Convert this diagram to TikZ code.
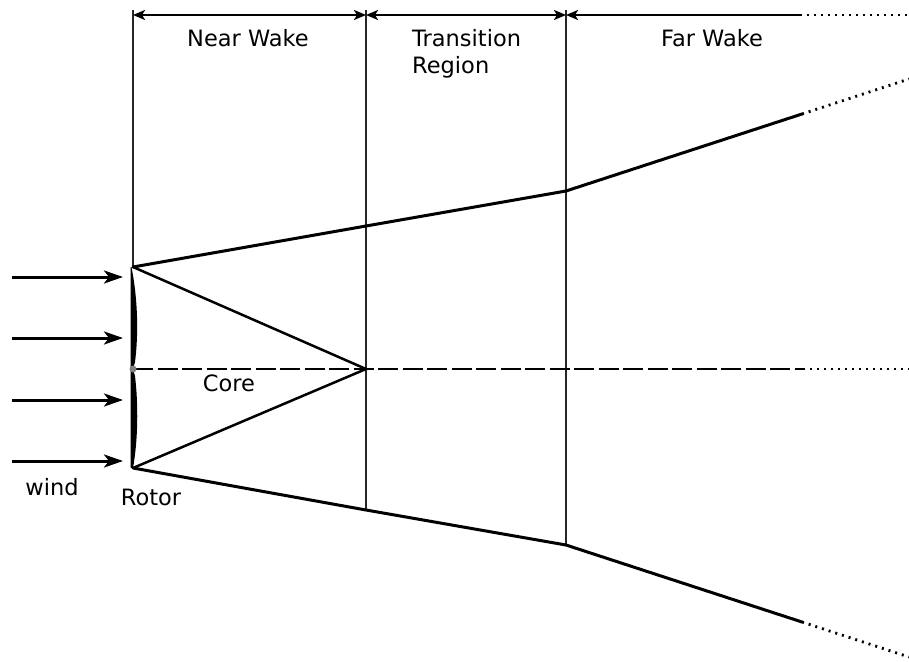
\documentclass[tikz,border=0pt]{standalone}
\usepackage{fontspec}
\setmainfont{DejaVu Sans}
\usetikzlibrary{arrows.meta,calc}
\begin{document}
\begin{tikzpicture}[x=1pt,y=-1pt,
  thinline/.style={line width=1.7pt, black!85},
  wake/.style={line width=3pt, line cap=round},
  dotline/.style={line width=2.8pt, dash pattern=on 2pt off 5pt},
  dimline/.style={line width=2.5pt, -{Stealth[length=12pt,width=10pt,inset=3pt]}},
  windarrow/.style={line width=3pt, -{Stealth[length=19pt,width=13pt,inset=5pt]}},
  lbl/.style={font=\fontsize{22.5}{27}\selectfont, inner sep=0pt}]
\useasboundingbox (0,0) rectangle (909,661);
% key points
\coordinate (t0) at (133,10); \coordinate (t1) at (366,10); \coordinate (t2) at (566,10);
\coordinate (d0) at (133,15); \coordinate (d1) at (366,15); \coordinate (d2) at (566,15);
\coordinate (d3) at (800,15); \coordinate (d4) at (909,15);
\coordinate (m01) at (250,15); \coordinate (m12) at (466,15);
\coordinate (rt) at (133,267); \coordinate (rb) at (133,468); \coordinate (rc) at (133,369);
\coordinate (apex) at (366,369);
\coordinate (u1) at (366,226); \coordinate (u2) at (566,191); \coordinate (u3) at (802,114); \coordinate (u4) at (909,79);
\coordinate (l1) at (366,510); \coordinate (l2) at (566,545); \coordinate (l3) at (802,622); \coordinate (l4) at (909,657);
\coordinate (c3) at (803,369); \coordinate (c4) at (909,369);
\coordinate (b1) at (366,510); \coordinate (b2) at (566,545);
% vertical lines
\draw[thinline] (t0) -- (rt);
\draw[thinline] (t1) -- (b1);
\draw[thinline] (t2) -- (b2);
% dimension arrows
\draw[dimline] (m01) -- (d0);
\draw[dimline] (m01) -- (d1);
\draw[dimline] (m12) -- (d1);
\draw[dimline] (m12) -- (d2);
\draw[dimline] (d3) -- (d2);
\draw[dotline, line width=2.2pt] (d3) -- (d4);
% wake boundaries
\draw[wake] (rt) -- (u1) -- (u2) -- (u3);
\draw[dotline] (u3) -- (u4);
\draw[wake] (rb) -- (l1) -- (l2) -- (l3);
\draw[dotline] (l3) -- (l4);
% core
\draw[line width=2.5pt] (rt) -- (apex) -- (rb);
% centre line
\draw[line width=2.5pt, dash pattern=on 20pt off 4.5pt] (rc) -- (c3);
\draw[dotline] (c3) -- (c4);
% rotor
\fill (131.5,267) .. controls (138,300) and (138.5,335) .. (135,362) -- (133,369)
  -- (135,376) .. controls (138.5,405) and (138,440) .. (133,468)
  -- (130.5,468) -- (130.5,369) -- (130.5,267) -- cycle;
\fill[gray] (rc) circle (3.5pt);
% wind arrows
\foreach \y/\n in {277/w1,338/w2,400/w3,461/w4}{
  \coordinate (\n s) at (12,\y); \coordinate (\n e) at (123,\y);
  \draw[windarrow] (\n s) -- (\n e);
}
% labels
\node[lbl] (nw) at (248,38) {Near Wake};
\node[lbl, anchor=west] (tr) at (412,38) {Transition};
\node[lbl, anchor=west] (rg) at (412,67) {Region};
\node[lbl] (fw) at (712,38) {Far Wake};
\node[lbl] (core) at (229,383) {Core};
\node[lbl] (wind) at (52,487) {wind};
\node[lbl] (rotor) at (151,497) {Rotor};
\end{tikzpicture}
\end{document}
